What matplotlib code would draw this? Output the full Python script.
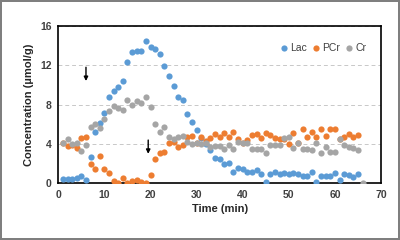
import matplotlib
matplotlib.use("Agg")
import matplotlib.pyplot as plt

plt.rcParams['font.family'] = ['Liberation Sans', 'DejaVu Sans']

time = list(range(1, 66))
lac = [0.44, 0.44, 0.44, 0.58, 0.75, 0.3, 2.7, 5.2, 6.1, 7.1,
       8.75, 9.4, 9.75, 10.4, 12.3, 13.3, 13.45, 13.5, 14.5, 13.9,
       13.7, 13.1, 11.9, 10.9, 9.9, 8.75, 8.5, 7.0, 6.2, 5.4,
       4.6, 4.0, 3.4, 2.6, 2.5, 2.0, 2.1, 1.2, 1.6, 1.5,
       1.2, 1.2, 1.35, 0.95, 0.1, 1.0, 1.2, 0.95, 1.1, 1.0,
       1.1, 1.0, 0.75, 0.75, 1.2, 0.15, 0.7, 0.75, 0.75, 1.1,
       0.35, 1.0, 0.85, 0.6, 0.95]
pcr = [4.07, 3.8, 3.9, 3.55, 4.6, 4.75, 1.95, 1.5, 2.8, 1.5,
       1.1, 0.25, 0.0, 0.5, 0.0, 0.2, 0.3, 0.15, 0.0, 0.8,
       2.45, 3.1, 3.2, 4.1, 4.2, 3.65, 3.9, 4.7, 4.8, 4.1,
       4.75, 4.3, 4.6, 5.0, 4.75, 5.1, 4.75, 5.25, 4.5, 4.1,
       4.4, 4.9, 5.0, 4.65, 5.15, 4.9, 4.65, 4.5, 4.5, 4.0,
       5.15, 4.07, 5.5, 4.7, 5.25, 4.75, 5.5, 4.85, 5.5, 5.5,
       4.5, 4.75, 5.0, 4.75, 4.9]
cr_time = list(range(1, 67))
cr = [4.1, 4.5, 4.0, 4.1, 3.3, 3.9, 5.7, 6.0, 5.65, 6.5,
      7.35, 7.9, 7.7, 7.45, 8.5, 7.95, 8.4, 8.2, 8.8, 7.8,
      6.0, 5.25, 5.75, 4.7, 4.5, 4.75, 4.85, 4.25, 4.0, 4.07,
      3.95, 4.07, 3.7, 3.8, 3.8, 3.45, 3.85, 3.5, 4.25, 4.1,
      4.07, 3.5, 3.5, 3.5, 3.1, 3.85, 3.85, 3.85, 4.65, 4.75,
      3.55, 4.1, 3.5, 3.5, 3.4, 4.07, 3.1, 3.7, 3.15, 3.2,
      4.5, 3.85, 3.7, 3.6, 3.4, 0.0]

x_ticks = [0, 10, 20, 30, 40, 50, 60, 70]
y_ticks = [0, 4, 8, 12, 16]

# arrows (x, y_start, y_end)
arrows = [(6.0, 11.8, 10.4), (19.5, 4.4, 3.0)]

fig = plt.figure(figsize=(4.0, 2.4), dpi=100)
fig.patch.set_edgecolor('#7f7f7f')
fig.patch.set_linewidth(1.5)
ax = fig.add_axes([0.1458, 0.236, 0.8067, 0.656])

ms = 20
ax.scatter(time, lac, s=ms, color='#5B9BD5', label='Lac', zorder=3, linewidths=0)
ax.scatter(time, pcr, s=ms, color='#ED7D31', label='PCr', zorder=3, linewidths=0)
ax.scatter(cr_time, cr, s=ms, color='#A5A5A5', label='Cr', zorder=3, linewidths=0)

for xa, y0, y1 in arrows:
    ax.annotate('', xy=(xa, y1), xytext=(xa, y0),
                arrowprops=dict(arrowstyle='-|>', color='black', lw=1.0,
                                mutation_scale=6, shrinkA=0, shrinkB=0))

ax.set_xlim(0, 70)
ax.set_ylim(0, 16)
ax.set_xticks(x_ticks)
ax.set_yticks(y_ticks)
ax.tick_params(length=0, labelsize=7.5, labelcolor='#404040', pad=5)
for lbl in ax.get_xticklabels() + ax.get_yticklabels():
    lbl.set_fontweight('bold')
ax.grid(axis='y', color='#c8c8c8', linestyle='--', linewidth=0.7, dashes=(4, 3))
ax.set_axisbelow(True)
for sp in ax.spines.values():
    sp.set_color('black')
    sp.set_linewidth(1.2)

ax.set_xlabel('Time (min)', fontsize=8, fontweight='bold', color='#262626', labelpad=3)
ax.set_ylabel('Concentration (µmol/g)', fontsize=8, fontweight='bold', color='#262626', labelpad=4)

leg = ax.legend(loc='upper right', ncol=3, frameon=False, fontsize=7.5,
                handletextpad=0.0, columnspacing=0.3, handlelength=1.2,
                markerscale=1.0, bbox_to_anchor=(0.975, 0.93), borderaxespad=0.2)
for t in leg.get_texts():
    t.set_color('#404040')

fig.savefig('out.png', dpi=100, edgecolor=fig.get_edgecolor())
